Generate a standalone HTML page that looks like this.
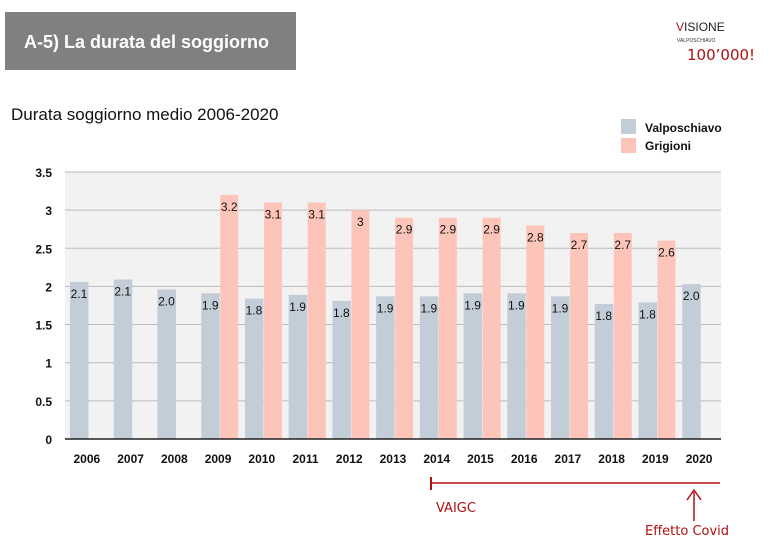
<!DOCTYPE html>
<html><head><meta charset="utf-8"><style>
body{margin:0;background:#fff;width:770px;height:552px;overflow:hidden;font-family:"Liberation Sans",sans-serif}
</style></head><body>
<svg id="s" width="770" height="552" xmlns="http://www.w3.org/2000/svg" font-family="Liberation Sans, sans-serif">
<rect x="5" y="12" width="291" height="58" fill="#808080"/>
<text x="24" y="48" fill="#fff" font-size="18" font-weight="bold">A-5) La durata del soggiorno</text>
<text x="676" y="31" fill="#222" font-size="12"><tspan fill="#b01010">V</tspan>ISIONE</text>
<text x="677" y="42" fill="#333" font-size="5">VALPOSCHIAVO</text>
<text x="687" y="60" fill="#b01010" font-size="15" font-family="DejaVu Sans, sans-serif">100’000!</text>
<text x="11" y="120" fill="#111" font-size="17">Durata soggiorno medio 2006-2020</text>
<rect x="621" y="119" width="15" height="15" fill="#c3cdd8"/>
<text x="645" y="132" font-size="12" font-weight="bold" fill="#111">Valposchiavo</text>
<rect x="621" y="138" width="15" height="15" fill="#fdc5b9"/>
<text x="645" y="150" font-size="12" font-weight="bold" fill="#111">Grigioni</text>
<rect x="65" y="172" width="656" height="267" fill="#f2f2f2"/>
<g id="g"></g>
<line x1="431" y1="483" x2="720" y2="483" stroke="#b01010" stroke-width="1.5"/>
<line x1="431" y1="477" x2="431" y2="490" stroke="#b01010" stroke-width="2"/>
<line x1="694" y1="492" x2="694" y2="521" stroke="#b01010" stroke-width="1.5"/>
<polyline points="687,500 694,490 701,500" fill="none" stroke="#b01010" stroke-width="1.5"/>
<text x="436" y="512" fill="#b01010" font-size="13" font-family="DejaVu Sans, sans-serif">VAIGC</text>
<text x="645" y="535" fill="#b01010" font-size="13" font-family="DejaVu Sans, sans-serif">Effetto Covid</text>
</svg>
<script>
var g=document.getElementById('g'),h='';
var y0=439,k=76.3,L=65,W=43.73;
for(var i=0;i<=7;i++){var v=i*0.5,y=y0-v*k;
 if(i>0)h+='<line x1="65" x2="721" y1="'+y+'" y2="'+y+'" stroke="#bbb" stroke-width="1"/>';
 h+='<text x="52" y="'+(y+5)+'" text-anchor="end" font-size="12" font-weight="bold" fill="#111">'+(v==0?'0':v)+'</text>';}
var vb=[2.06,2.09,1.96,1.91,1.84,1.89,1.81,1.87,1.87,1.91,1.91,1.87,1.77,1.79,2.03];
var vl=['2.1','2.1','2.0','1.9','1.8','1.9','1.8','1.9','1.9','1.9','1.9','1.9','1.8','1.8','2.0'];
var gb=[0,0,0,3.2,3.1,3.1,3.0,2.9,2.9,2.9,2.8,2.7,2.7,2.6,0];
var gl=['','','','3.2','3.1','3.1','3','2.9','2.9','2.9','2.8','2.7','2.7','2.6',''];
for(var i=0;i<15;i++){var x=L+i*W;
 var t=y0-vb[i]*k;
 h+='<rect x="'+(x+5)+'" y="'+t+'" width="18.5" height="'+(y0-t)+'" fill="#c3cdd8"/>';
 h+='<text x="'+(x+14)+'" y="'+(t+16)+'" text-anchor="middle" font-size="12" fill="#111">'+vl[i]+'</text>';
 if(gb[i]){var t2=y0-gb[i]*k;
  h+='<rect x="'+(x+24)+'" y="'+t2+'" width="18" height="'+(y0-t2)+'" fill="#fdc5b9"/>';
  h+='<text x="'+(x+33)+'" y="'+(t2+16)+'" text-anchor="middle" font-size="12" fill="#111">'+gl[i]+'</text>';}
 h+='<text x="'+(x+W/2)+'" y="463" text-anchor="middle" font-size="12" font-weight="bold" fill="#111">'+(2006+i)+'</text>';}
h+='<line x1="65" x2="721" y1="439" y2="439" stroke="#222" stroke-width="1.5"/>';
g.innerHTML=h;
</script>
</body></html>
